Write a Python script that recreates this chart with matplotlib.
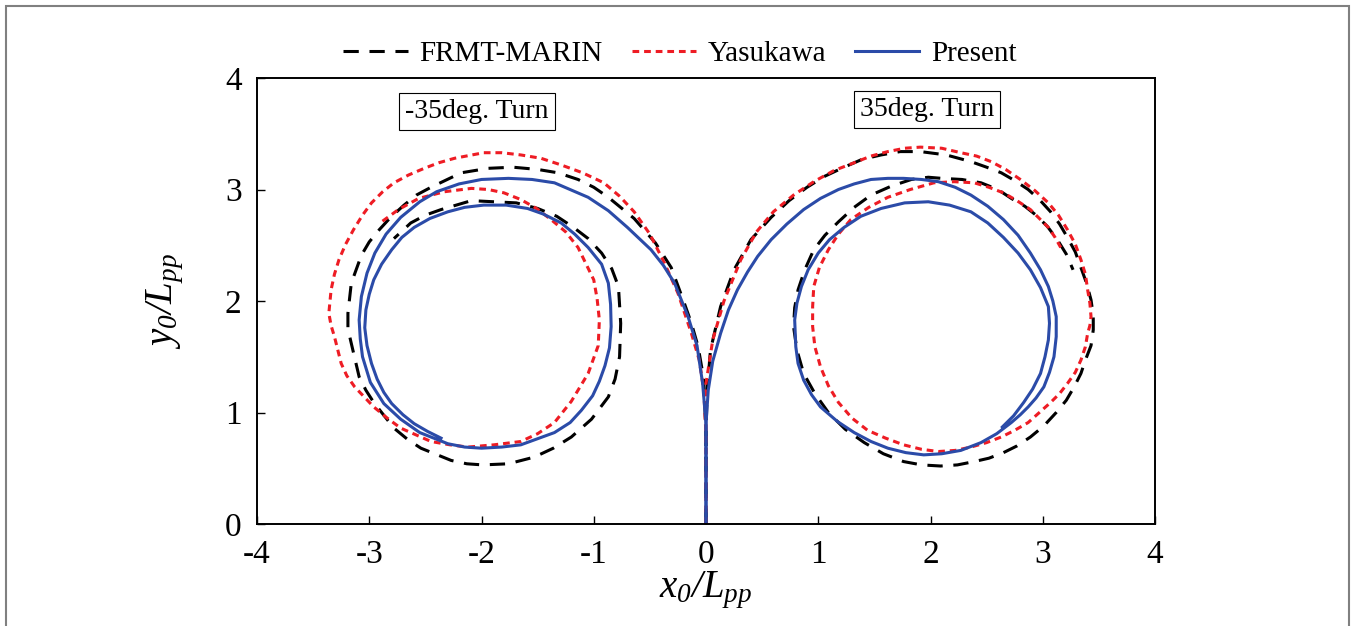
import matplotlib
matplotlib.use("Agg")
import matplotlib.pyplot as plt
from matplotlib.patches import Rectangle

plt.rcParams['font.family'] = 'Liberation Serif'
plt.rcParams['mathtext.fontset'] = 'custom'
plt.rcParams['mathtext.it'] = 'Liberation Serif:italic'
plt.rcParams['mathtext.rm'] = 'Liberation Serif:italic'

# ---- data (x0/Lpp, y0/Lpp) ----
# -35 deg turn
frmt_l_x = [0, 0, -0.02, -0.07, -0.13, -0.2, -0.31, -0.45, -0.64, -0.87, -1.0, -1.14, -1.32, -1.5, -1.72,
            -1.94, -2.18, -2.45, -2.58, -2.69, -2.81, -2.91, -3.0, -3.07, -3.16, -3.19, -3.19, -3.16,
            -3.09, -3.03, -2.96, -2.78, -2.66, -2.54, -2.27, -2.13, -1.99, -1.76, -1.53, -1.36, -1.2,
            -1.02, -0.87, -0.81, -0.77, -0.76, -0.78, -0.84, -0.93, -1.05, -1.18, -1.33, -1.5, -1.69,
            -1.89, -2.09, -2.36, -2.5, -2.63, -2.78]
frmt_l_y = [0, 0.8, 1.3, 1.59, 1.8, 2.0, 2.3, 2.52, 2.74, 2.93, 3.02, 3.09, 3.15, 3.18, 3.2,
            3.19, 3.15, 3.02, 2.95, 2.86, 2.75, 2.64, 2.53, 2.41, 2.16, 1.89, 1.75, 1.62,
            1.32, 1.2, 1.09, 0.86, 0.76, 0.68, 0.57, 0.54, 0.53, 0.54, 0.6, 0.68, 0.78,
            0.94, 1.14, 1.3, 1.5, 1.8, 2.13, 2.29, 2.43, 2.56, 2.66, 2.76, 2.83, 2.88,
            2.89, 2.9, 2.82, 2.77, 2.7, 2.56]

yasu_l_x = [0, 0, -0.02, -0.06, -0.13, -0.25, -0.37, -0.5, -0.64, -0.77, -0.91, -1.1, -1.29, -1.47, -1.65,
            -1.82, -1.98, -2.24, -2.38, -2.51, -2.65, -2.78, -2.88, -2.98, -3.06, -3.14, -3.21, -3.27,
            -3.31, -3.34, -3.36, -3.34, -3.31, -3.25, -3.2, -3.13, -2.96, -2.84, -2.72, -2.45, -2.28,
            -2.12, -1.89, -1.65, -1.5, -1.35, -1.2, -1.05, -0.96, -0.95, -0.97, -1.0, -1.14, -1.25,
            -1.38, -1.51, -1.65, -1.8, -1.94, -2.09, -2.33, -2.56, -2.74, -2.89]
yasu_l_y = [0, 0.8, 1.2, 1.47, 1.71, 2.07, 2.34, 2.6, 2.8, 2.94, 3.06, 3.15, 3.22, 3.28, 3.31,
            3.33, 3.33, 3.28, 3.24, 3.19, 3.13, 3.06, 2.98, 2.88, 2.77, 2.64, 2.51, 2.37,
            2.24, 2.1, 1.89, 1.78, 1.68, 1.44, 1.33, 1.23, 1.05, 0.95, 0.86, 0.74, 0.71,
            0.69, 0.71, 0.74, 0.81, 0.91, 1.1, 1.35, 1.6, 1.83, 2.02, 2.19, 2.48, 2.62,
            2.73, 2.83, 2.91, 2.97, 3.0, 3.01, 2.98, 2.92, 2.82, 2.71]

pres_l_x = [0, 0, -0.03, -0.08, -0.16, -0.28, -0.38, -0.49, -0.7, -0.87, -1.05, -1.35, -1.55, -1.76, -2.0,
            -2.2, -2.4, -2.55, -2.72, -2.85, -2.95, -3.02, -3.07, -3.09, -3.08, -3.06, -2.99, -2.87,
            -2.72, -2.55, -2.3, -2.15, -2.0, -1.82, -1.65, -1.35, -1.21, -1.11, -1.01, -0.95, -0.9,
            -0.86, -0.845, -0.85, -0.87, -0.93, -1.05, -1.17, -1.29, -1.45, -1.59, -1.78, -1.98, -2.15,
            -2.3, -2.46, -2.6, -2.71, -2.8, -2.89, -2.96, -3.0, -3.03, -3.04, -3.02, -2.98, -2.93,
            -2.87, -2.8, -2.7, -2.6, -2.48, -2.36]
pres_l_y = [0, 0.9, 1.26, 1.6, 1.86, 2.16, 2.32, 2.46, 2.66, 2.81, 2.93, 3.06, 3.09, 3.1, 3.09,
            3.05, 2.98, 2.89, 2.75, 2.6, 2.43, 2.25, 2.04, 1.83, 1.66, 1.5, 1.27, 1.08,
            0.94, 0.82, 0.72, 0.69, 0.68, 0.69, 0.71, 0.82, 0.91, 1.02, 1.15, 1.28, 1.42,
            1.58, 1.77, 1.97, 2.16, 2.33, 2.48, 2.6, 2.7, 2.78, 2.83, 2.86, 2.86, 2.84,
            2.8, 2.74, 2.66, 2.57, 2.46, 2.33, 2.19, 2.06, 1.92, 1.76, 1.6, 1.44, 1.3,
            1.18, 1.08, 0.98, 0.9, 0.83, 0.77]

# 35 deg turn
frmt_r_x = [0, 0, 0.01, 0.04, 0.13, 0.25, 0.4, 0.58, 0.74, 0.9, 1.06, 1.23, 1.39, 1.56, 1.73, 1.91,
            2.14, 2.36, 2.5, 2.63, 2.75, 2.87, 2.97, 3.07, 3.15, 3.22, 3.29, 3.34, 3.39, 3.43, 3.45,
            3.45, 3.43, 3.38, 3.34, 3.28, 3.21, 3.12, 3.01, 2.89, 2.77, 2.65, 2.52, 2.39, 2.24, 2.09,
            1.92, 1.76, 1.58, 1.41, 1.24, 1.09, 0.97, 0.87, 0.81, 0.78, 0.79, 0.82, 0.88, 0.96, 1.06,
            1.18, 1.32, 1.47, 1.65, 1.83, 1.98, 2.1, 2.28, 2.45, 2.6, 2.72, 2.84, 2.94, 3.04, 3.13,
            3.21, 3.27]
frmt_r_y = [0, 0.8, 1.2, 1.56, 1.95, 2.28, 2.55, 2.75, 2.9, 3.02, 3.12, 3.2, 3.27, 3.31, 3.34, 3.34,
            3.31, 3.25, 3.2, 3.15, 3.08, 3.0, 2.91, 2.8, 2.69, 2.57, 2.44, 2.3, 2.16, 2.01, 1.87,
            1.74, 1.6, 1.47, 1.35, 1.23, 1.11, 1.0, 0.88, 0.78, 0.7, 0.64, 0.59, 0.56, 0.53, 0.52,
            0.53, 0.56, 0.63, 0.73, 0.85, 1.0, 1.17, 1.35, 1.56, 1.77, 1.94, 2.1, 2.28, 2.46, 2.59,
            2.71, 2.84, 2.95, 3.03, 3.09, 3.11, 3.1, 3.09, 3.06, 3.0, 2.92, 2.85, 2.77, 2.67, 2.55,
            2.42, 2.28]

yasu_r_x = [0, 0, 0.0, 0.06, 0.16, 0.31, 0.45, 0.6, 0.78, 0.96, 1.14, 1.32, 1.47, 1.62, 1.77, 1.91,
            2.1, 2.27, 2.41, 2.54, 2.67, 2.8, 2.93, 3.05, 3.14, 3.22, 3.29, 3.34, 3.38, 3.4, 3.42,
            3.43, 3.42, 3.4, 3.38, 3.34, 3.29, 3.22, 3.15, 3.07, 2.97, 2.87, 2.75, 2.63, 2.5, 2.36,
            2.22, 2.07, 1.92, 1.76, 1.6, 1.44, 1.3, 1.18, 1.09, 1.02, 0.97, 0.95, 0.95, 0.96, 1.01,
            1.09, 1.18, 1.29, 1.45, 1.62, 1.82, 2.03, 2.21, 2.39, 2.52, 2.65, 2.77, 2.89, 2.97, 3.05,
            3.11, 3.16]
yasu_r_y = [0, 0.8, 1.26, 1.65, 2.0, 2.37, 2.62, 2.8, 2.95, 3.07, 3.17, 3.24, 3.3, 3.34, 3.37, 3.38,
            3.37, 3.33, 3.3, 3.25, 3.18, 3.09, 2.99, 2.88, 2.77, 2.64, 2.51, 2.37, 2.24, 2.1, 1.98,
            1.86, 1.78, 1.71, 1.59, 1.47, 1.36, 1.26, 1.17, 1.09, 1.0, 0.91, 0.84, 0.78, 0.73, 0.69,
            0.66, 0.65, 0.67, 0.71, 0.77, 0.84, 0.95, 1.09, 1.24, 1.41, 1.59, 1.77, 1.95, 2.13, 2.3,
            2.46, 2.6, 2.73, 2.84, 2.93, 3.0, 3.06, 3.07, 3.06, 3.02, 2.97, 2.9, 2.82, 2.74, 2.66,
            2.57, 2.48]

pres_r_x = [0, 0, 0.02, 0.06, 0.13, 0.2, 0.28, 0.37, 0.46, 0.58, 0.72, 0.87, 1.02, 1.18, 1.32, 1.47,
            1.62, 1.76, 1.92, 2.07, 2.22, 2.36, 2.51, 2.65, 2.78, 2.89, 2.98, 3.05, 3.09, 3.12, 3.12,
            3.1, 3.06, 3.01, 2.94, 2.87, 2.8, 2.72, 2.59, 2.45, 2.27, 2.1, 1.94, 1.78, 1.62, 1.47,
            1.32, 1.17, 1.02, 0.94, 0.87, 0.82, 0.8, 0.79, 0.81, 0.85, 0.91, 1.0, 1.1, 1.23, 1.38,
            1.56, 1.77, 1.98, 2.17, 2.36, 2.51, 2.65, 2.78, 2.89, 2.98, 3.05, 3.06, 3.05, 3.02, 2.98,
            2.91, 2.83, 2.74, 2.64]
pres_r_y = [0, 0.9, 1.2, 1.46, 1.71, 1.92, 2.1, 2.26, 2.4, 2.55, 2.69, 2.82, 2.92, 3.0, 3.05, 3.09,
            3.1, 3.1, 3.09, 3.07, 3.02, 2.95, 2.85, 2.73, 2.59, 2.43, 2.28, 2.13, 2.0, 1.86, 1.68,
            1.5, 1.36, 1.23, 1.13, 1.05, 0.98, 0.91, 0.81, 0.73, 0.66, 0.63, 0.62, 0.64, 0.68, 0.74,
            0.82, 0.92, 1.05, 1.16, 1.29, 1.44, 1.59, 1.83, 1.98, 2.13, 2.28, 2.43, 2.55, 2.66, 2.76,
            2.83, 2.88, 2.89, 2.86, 2.8, 2.7, 2.57, 2.43, 2.28, 2.12, 1.95, 1.8, 1.65, 1.5, 1.35,
            1.21, 1.09, 0.97, 0.87]

xticks = [-4, -3, -2, -1, 0, 1, 2, 3, 4]
yticks = [0, 1, 2, 3, 4]

black = '#000000'
red = '#EE1C24'
blue = '#2B4BA8'

fig = plt.figure(figsize=(13.55, 6.26), dpi=100)
ax = fig.add_axes([257/1355, 1-524/626, 898/1355, 446/626])

ax.plot(frmt_l_x, frmt_l_y, color=black, lw=2.2, dashes=(5, 3.5), label='FRMT-MARIN')
ax.plot(frmt_r_x, frmt_r_y, color=black, lw=2.2, dashes=(5, 3.5))
ax.plot(yasu_l_x, yasu_l_y, color=red, lw=2.2, dashes=(2.2, 1.6), label='Yasukawa')
ax.plot(yasu_r_x, yasu_r_y, color=red, lw=2.2, dashes=(2.2, 1.6))
ax.plot(pres_l_x, pres_l_y, color=blue, lw=2.2, label='Present')
ax.plot(pres_r_x, pres_r_y, color=blue, lw=2.2)

ax.set_xlim(-4, 4)
ax.set_ylim(0, 4)
ax.set_xticks(xticks)
ax.set_yticks(yticks)
ax.set_xticklabels([str(t) for t in xticks])
ax.set_yticklabels([str(t) for t in yticks])
ax.tick_params(direction='in', length=6, width=1.0, labelsize=24, pad=11)
for s in ax.spines.values():
    s.set_linewidth(1.4)

ax.set_xlabel(r'$x_0/L_{pp}$', fontsize=28, labelpad=0)
ax.set_ylabel(r'$y_0/L_{pp}$', fontsize=28, labelpad=28)

box = dict(boxstyle='square,pad=0.22', fc='white', ec='black', lw=0.8)
ax.text(-2.04, 3.70, '-35deg. Turn', fontsize=20, ha='center', va='center', bbox=box)
ax.text(1.97, 3.72, '35deg. Turn', fontsize=20, ha='center', va='center', bbox=box)

fig.legend(loc='center', bbox_to_anchor=(680/1355, 1-54/626), ncol=3, frameon=False,
           fontsize=21, handlelength=2.2, handletextpad=0.4, columnspacing=1.0)

# outer frame of the figure
fig.patches.append(Rectangle((6/1355, -0.1), 1343/1355, 1-6/626+0.1, transform=fig.transFigure,
                             fill=False, ec='#808080', lw=1.5))

fig.savefig('out.png', dpi=100)
